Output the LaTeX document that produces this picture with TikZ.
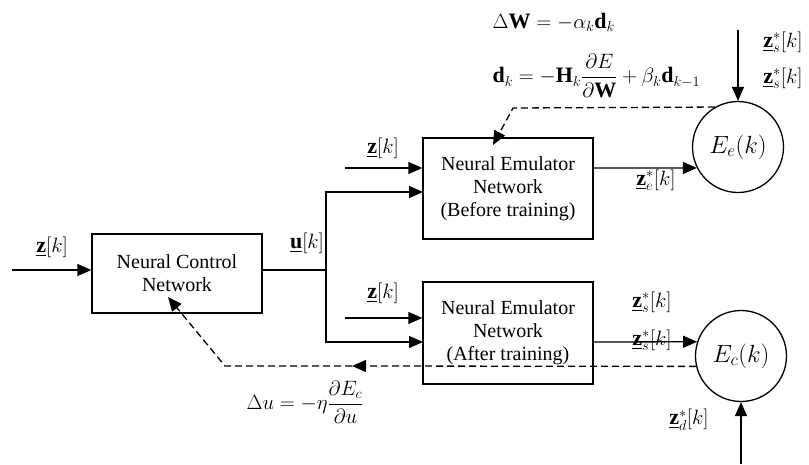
\documentclass[tikz,border=0pt]{standalone}
\usepackage{amsmath}
\usepackage{fontspec}
\setmainfont{Liberation Serif}
\usetikzlibrary{arrows.meta,positioning,calc}

\newcommand{\zvec}{\underline{\mathbf{z}}}
\newcommand{\uvec}{\underline{\mathbf{u}}}

\begin{document}
\begin{tikzpicture}[
 x=1pt,y=-1pt,font=\fontsize{20}{23}\selectfont,line width=1.3pt,
 netbox/.style={draw,rectangle,align=center,minimum width=170pt,inner sep=2pt},
 errnode/.style={draw,circle,minimum size=91pt,inner sep=0pt,
                 font=\fontsize{23}{25}\selectfont},
 flow/.style={-{Triangle[length=14pt,width=12pt]}},
 adapt/.style={flow,dashed,dash pattern=on 7pt off 4pt},
 lbl/.style={inner sep=1pt,font=\fontsize{22}{25}\selectfont}]
\useasboundingbox (0,0) rectangle (809,464);
\node[netbox,minimum height=79pt] (ctrl) at (177,273.5)
 {Neural Control\\Network};
\node[netbox,minimum height=101pt] (emuA) at (508,188.5)
 {Neural Emulator\\Network\\(Before training)};
\node[netbox,minimum height=102pt] (emuB) at (508,333)
 {Neural Emulator\\Network\\(After training)};
\node[errnode] (Ee) at (738,147) {$E_e(k)$};
\node[errnode] (Ec) at (741,356) {$E_c(k)$};
\coordinate (zin) at (12,270);
\coordinate (split) at (326,270);
\coordinate (uA) at (423,192);
\coordinate (uB) at (423,342);
\coordinate (zA) at (345,168);
\coordinate (zB) at (345,318);
\coordinate (oA) at (593,168);
\coordinate (oB) at (593,342);
\coordinate (sA) at (738,30);
\coordinate (dB) at (741,464);
\coordinate (bendA) at (513,108);
\coordinate (tipA) at (493,145);
\coordinate (midB) at (352,366);
\coordinate (bendB) at (225,366);
\coordinate (tipB) at (168,297);
\draw[flow] (zin) -- (ctrl.west |- zin);
\node[lbl] (zinl) at (52,247) {$\zvec[k]$};
\draw (ctrl.east |- split) -- (split);
\node[lbl] (ul) at (307,243) {$\uvec[k]$};
\draw[flow] (split) |- (uA);
\draw[flow] (split) |- (uB);
\draw[flow] (zA) -- (emuA.west |- zA);
\node[lbl] (zAl) at (383,148) {$\zvec[k]$};
\draw[flow] (zB) -- (emuB.west |- zB);
\node[lbl] (zBl) at (383,293) {$\zvec[k]$};
\draw[flow] (oA) -- (Ee.207);
\node[lbl] (zel) at (656,180) {$\zvec_e^*[k]$};
\draw[flow] (sA) -- (Ee.north);
\node[lbl] (zs1) at (783,42) {$\zvec_s^*[k]$};
\node[lbl] (zs2) at (783,78) {$\zvec_s^*[k]$};
\draw[flow] (oB) -- (Ec.162);
\node[lbl] (zs3) at (652,302) {$\zvec_s^*[k]$};
\node[lbl] (zs4) at (652,340) {$\zvec_s^*[k]$};
\draw[flow] (dB) -- (Ec.south);
\node[lbl] (zdl) at (689,420) {$\zvec_d^*[k]$};
\draw[adapt] (Ee.120) -- (bendA) -- (tipA);
\draw[adapt] (Ec.193) -- (midB);
\draw[adapt] (midB) -- (bendB) -- (tipB);
\node[lbl,anchor=west] (dW) at (491,22) {$\Delta\mathbf{W}=-\alpha_k\mathbf{d}_k$};
\node[lbl,anchor=west] (dk) at (491,76)
 {$\mathbf{d}_k=-\mathbf{H}_k\dfrac{\partial E}{\partial\mathbf{W}}+\beta_k\mathbf{d}_{k-1}$};
\node[lbl] (du) at (305,402) {$\Delta u=-\eta\dfrac{\partial E_c}{\partial u}$};
\end{tikzpicture}
\end{document}
